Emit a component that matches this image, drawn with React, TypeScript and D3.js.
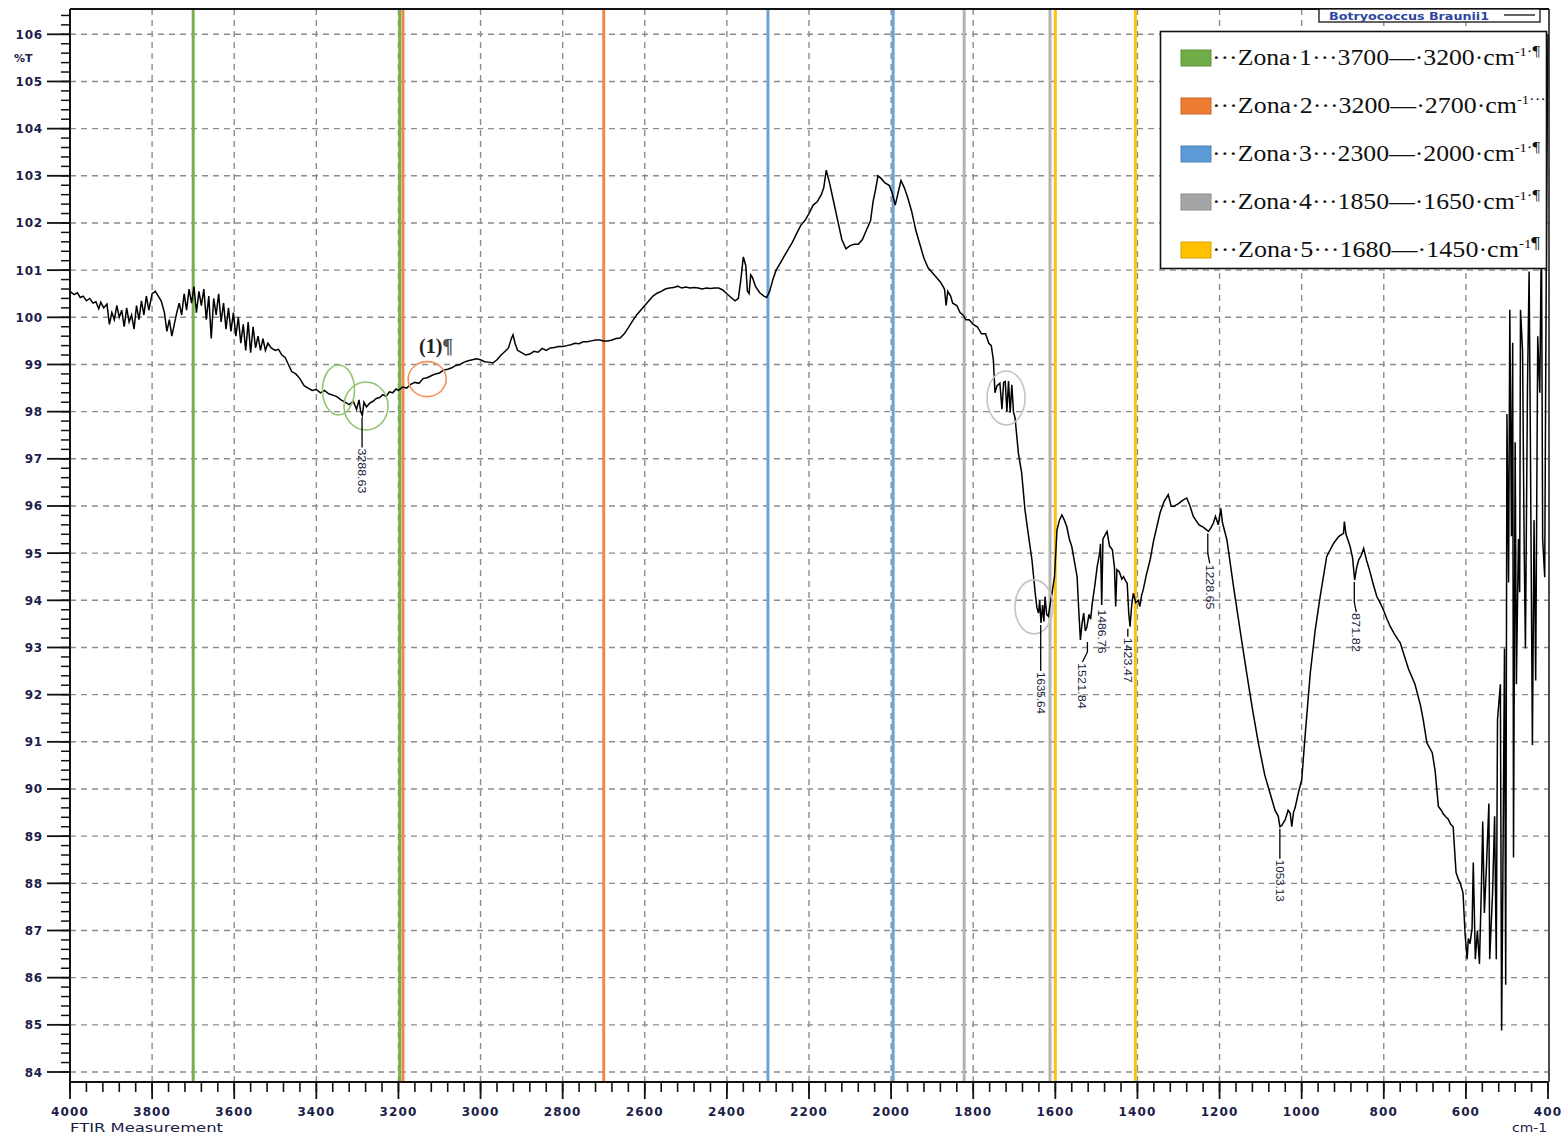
import React from "react";
import * as d3 from "d3";

// ---------- DATA ----------
const spectrumWn = [
  4000, 3990, 3982, 3975, 3968, 3960, 3952, 3944, 3937, 3930, 3925, 3918, 3910, 3904, 3898, 3892, 3886, 3880, 3874, 3868,
  3862, 3856, 3850, 3844, 3838, 3832, 3826, 3820, 3814, 3808, 3800, 3792, 3785, 3778, 3770, 3764, 3758, 3752, 3746, 3740,
  3734, 3728, 3722, 3716, 3710, 3704, 3698, 3692, 3686, 3680, 3674, 3668, 3662, 3656, 3650, 3644, 3638, 3632, 3626, 3620,
  3614, 3608, 3602, 3596, 3590, 3584, 3578, 3572, 3566, 3560, 3554, 3548, 3542, 3536, 3530, 3524, 3518, 3510, 3500, 3492,
  3484, 3476, 3468, 3460, 3450, 3440, 3430, 3420, 3410, 3400, 3390, 3380, 3370, 3360, 3350, 3340, 3330, 3320, 3310, 3302,
  3296, 3292, 3288, 3284, 3278, 3270, 3262, 3254, 3246, 3238, 3230, 3222, 3214, 3206, 3200,
  3190, 3180, 3170, 3160, 3150, 3140, 3130, 3120, 3110, 3100, 3090, 3080, 3070, 3060, 3050, 3040, 3030, 3020, 3010, 3000,
  2990, 2980, 2970, 2960, 2950, 2940, 2932, 2925, 2921, 2916, 2910, 2900, 2890, 2880, 2870, 2860, 2850, 2840, 2830, 2820,
  2810, 2800, 2790, 2780, 2770, 2760, 2750, 2740, 2730, 2720, 2710, 2700, 2690, 2680, 2670, 2660, 2650, 2640, 2630, 2620,
  2610, 2600, 2590, 2580, 2570, 2560, 2550, 2540, 2530, 2520, 2510, 2500, 2490, 2480, 2470, 2460, 2450, 2440, 2430, 2420,
  2410, 2400, 2390, 2380, 2372, 2366, 2360, 2354, 2350, 2346, 2342, 2338, 2330, 2320, 2310, 2303, 2296, 2288, 2280, 2270,
  2260, 2250, 2240, 2230, 2220, 2210, 2200, 2190, 2180, 2170, 2164, 2158, 2150, 2140, 2130, 2120, 2110, 2100, 2090, 2080,
  2070, 2060, 2050, 2044, 2038, 2032, 2025, 2015, 2005, 1998, 1990, 1984, 1976, 1968, 1960, 1950, 1940, 1930, 1920, 1910,
  1900, 1890, 1880, 1870, 1866, 1862, 1855, 1850, 1840, 1832, 1825, 1818, 1810, 1800, 1790, 1780, 1770, 1762, 1756, 1751,
  1747, 1742, 1735, 1730, 1726, 1722, 1718, 1714, 1710, 1706, 1702, 1698, 1690, 1682, 1674, 1665, 1657, 1649, 1645, 1641,
  1638, 1635, 1631, 1628, 1625, 1621, 1617, 1612, 1608, 1602, 1596, 1590, 1584, 1578, 1572, 1566, 1560, 1553, 1547, 1543,
  1539, 1535, 1531, 1527, 1523, 1518, 1514, 1510, 1504, 1498, 1492, 1490, 1487, 1484, 1478, 1474, 1468, 1461, 1456, 1453,
  1450, 1444, 1438, 1434, 1428, 1425, 1421, 1418, 1414, 1410, 1404, 1398, 1394, 1390, 1386, 1378, 1369, 1361, 1353, 1345,
  1335, 1325, 1318, 1312, 1300, 1290, 1280, 1272, 1264, 1250, 1240, 1231, 1227, 1220, 1215, 1210, 1203, 1197, 1193, 1182,
  1166, 1150, 1134, 1120, 1105, 1090, 1075, 1065, 1057, 1053, 1049, 1040, 1033, 1028, 1024, 1020, 1016, 1008, 1000, 990,
  979, 967, 955, 939, 922, 910, 898, 896, 892, 882, 876, 871, 866, 861, 855, 849, 842, 835, 826, 817,
  809, 801, 792, 784, 775, 765, 760, 740, 724, 711, 704, 695, 682, 675, 667, 660, 655, 648, 643, 637,
  631, 624, 619, 614, 607, 602, 597, 594, 590, 585, 582, 577, 572, 567, 562, 559, 555, 550, 544, 542,
  535, 530, 526, 523, 516, 513, 510, 506, 503, 500, 496, 493, 489, 486, 484, 480, 477, 472, 469, 467,
  462, 458, 455, 450, 446, 443, 438, 434, 430, 425, 420, 416, 413, 408, 404, 402, 400,
];
const spectrumT = [
  100.55, 100.48, 100.52, 100.42, 100.45, 100.35, 100.4, 100.3, 100.33, 100.18, 100.32, 100.2, 100.28, 99.85, 100.1, 99.95, 100.25, 100.0, 100.15, 99.8,
  100.2, 99.9, 100.05, 99.75, 100.25, 99.95, 100.35, 100.05, 100.45, 100.15, 100.5, 100.55, 100.45, 100.35, 100.1, 99.7, 99.95, 99.6, 99.85, 100.1,
  100.3, 100.05, 100.5, 100.15, 100.6, 100.3, 100.65, 100.1, 100.55, 100.25, 100.6, 99.95, 100.45, 99.55, 100.4, 100.05, 100.5, 99.9, 100.3, 99.75,
  100.2, 99.7, 100.1, 99.6, 100.0, 99.45, 99.85, 99.3, 99.9, 99.25, 99.8, 99.35, 99.6, 99.3, 99.55, 99.3, 99.45, 99.35, 99.3, 99.32,
  99.2, 99.15, 99.0, 98.85, 98.8, 98.7, 98.55, 98.5, 98.45, 98.47, 98.4, 98.45, 98.38, 98.35, 98.32, 98.25, 98.2, 98.15, 98.22, 98.05,
  98.25, 98.0, 97.92, 98.2, 98.1, 98.18, 98.22, 98.28, 98.3, 98.36, 98.32, 98.42, 98.4, 98.48, 98.45,
  98.52, 98.5, 98.58, 98.62, 98.6, 98.7, 98.72, 98.76, 98.8, 98.82, 98.88, 98.9, 98.93, 98.98, 99.0, 99.05, 99.08, 99.1, 99.12, 99.1,
  99.06, 99.05, 99.03, 99.1, 99.2, 99.28, 99.35, 99.55, 99.63, 99.45, 99.3, 99.25, 99.2, 99.22, 99.28, 99.26, 99.34, 99.3, 99.35, 99.36,
  99.38, 99.38, 99.4, 99.42, 99.45, 99.44, 99.48, 99.48, 99.5, 99.52, 99.52, 99.5, 99.5, 99.52, 99.55, 99.56, 99.65, 99.78, 99.92, 100.05,
  100.15, 100.25, 100.35, 100.45, 100.51, 100.55, 100.6, 100.62, 100.63, 100.66, 100.62, 100.64, 100.62, 100.63, 100.62, 100.6, 100.62, 100.61, 100.62, 100.62,
  100.58, 100.5, 100.42, 100.35, 100.4, 100.8, 101.28, 101.1, 100.55, 100.5, 100.9, 100.85, 100.65, 100.52, 100.45, 100.42, 100.55, 100.8, 101.0, 101.15,
  101.3, 101.45, 101.6, 101.78, 101.95, 102.05, 102.2, 102.38, 102.45, 102.6, 102.75, 103.12, 102.85, 102.45, 102.05, 101.65, 101.45, 101.52, 101.55, 101.55,
  101.65, 101.85, 102.05, 102.45, 102.7, 103.0, 102.95, 102.85, 102.8, 102.65, 102.38, 102.6, 102.9, 102.75, 102.55, 102.25, 101.85, 101.55, 101.25, 101.05,
  100.95, 100.85, 100.75, 100.6, 100.25, 100.55, 100.45, 100.3, 100.25, 100.1, 100.05, 99.95, 99.95, 99.85, 99.8, 99.65, 99.65, 99.45, 99.4, 99.1,
  98.4, 98.55, 98.6, 98.05, 98.62, 98.64, 98.0, 98.65, 97.98, 98.57, 98.0, 97.86, 97.12, 96.7, 95.92, 95.35, 94.86, 94.15, 93.85, 93.73,
  94.0, 93.52, 93.9, 93.55, 94.08, 93.7, 93.66, 93.95, 94.15, 94.5, 95.49, 95.7, 95.81, 95.7, 95.56, 95.3, 95.14, 94.8, 94.5, 93.8,
  93.16, 93.5, 93.73, 93.35, 93.44, 93.7, 93.6, 93.94, 94.3, 94.72, 95.0, 95.2, 93.9, 95.3, 95.4, 95.46, 95.15, 95.07, 94.7, 93.87,
  94.65, 94.6, 94.45, 94.5, 94.4, 94.36, 93.7, 93.44, 93.9, 94.15, 93.95, 94.0, 93.87, 94.1, 94.22, 94.55, 94.86, 95.25, 95.55, 95.85,
  96.1, 96.24, 96.0, 95.99, 96.05, 96.12, 96.17, 96.0, 95.78, 95.6, 95.55, 95.49, 95.46, 95.55, 95.64, 95.78, 95.6, 95.95, 95.65, 95.28,
  94.29, 93.37, 92.46, 91.7, 90.95, 90.3, 89.85, 89.55, 89.42, 89.2, 89.22, 89.35, 89.55, 89.49, 89.2, 89.5, 89.6, 89.92, 90.19, 91.3,
  92.46, 93.37, 94.08, 94.93, 95.21, 95.35, 95.42, 95.67, 95.4, 95.14, 94.9, 94.43, 94.7, 94.86, 94.95, 95.1, 94.85, 94.65, 94.35, 94.08,
  93.95, 93.8, 93.6, 93.44, 93.3, 93.16, 93.1, 92.55, 92.22, 91.79, 91.47, 90.98, 90.77, 90.39, 89.63, 89.55, 89.47, 89.4, 89.36, 89.25,
  89.2, 88.23, 88.1, 88.01, 87.8, 86.93, 86.39, 86.83, 86.72, 87.04, 88.44, 86.39, 87.0, 86.29, 88.01, 89.31, 87.37, 88.34, 89.69, 86.39,
  87.8, 89.42, 86.39, 91.47, 92.22, 84.88, 88.01, 92.98, 85.85, 97.95, 94.38, 100.16, 95.36, 99.46, 88.55, 97.35, 92.22, 95.3, 94.17, 100.16,
  99.3, 95.1, 92.98, 98.49, 100.97, 97.5, 90.93, 95.7, 92.3, 99.6, 98.4, 101.9, 95.3, 94.49, 101.4, 104.0, 106.0,
];

const yTicks = [84, 85, 86, 87, 88, 89, 90, 91, 92, 93, 94, 95, 96, 97, 98, 99, 100, 101, 102, 103, 104, 105, 106];
const xTicks = [4000, 3800, 3600, 3400, 3200, 3000, 2800, 2600, 2400, 2200, 2000, 1800, 1600, 1400, 1200, 1000, 800, 600, 400];

const zoneLineWn = [3700, 3197, 3189, 2700, 2300, 1995, 1822, 1613, 1600, 1405];
const zoneLineColor = ["#76b04f", "#76b04f", "#ee8a45", "#ee8a45", "#6aa3d8", "#6aa3d8", "#b3b3b3", "#b3b3b3", "#ffc20e", "#ffc20e"];

const legendZones = ["1", "2", "3", "4", "5"];
const legendFrom = ["3700", "3200", "2300", "1850", "1680"];
const legendTo = ["3200", "2700", "2000", "1650", "1450"];
const legendColors = ["#70ad47", "#ed7d31", "#5b9bd5", "#a5a5a5", "#ffc000"];
const legendTail = ["\u00B7\u00B6", "\u00B7\u00B7\u00B7", "\u00B7\u00B6", "\u00B7\u00B6", "\u00B6"];

const peakWn = [3288.63, 1635.64, 1521.84, 1486.76, 1423.47, 1228.65, 1053.13, 871.82];
const peakText = ["3288.63", "1635.64", "1521.84", "1486.76", "1423.47", "1228.65", "1053.13", "871.82"];
const peakTipT = [97.92, 93.52, 93.16, 93.87, 93.44, 95.46, 89.2, 94.43];

const circleWn = [3346, 3279, 3130, 1720, 1652];
const circleT = [98.46, 98.12, 98.69, 98.29, 93.86];
const circleColor = ["#93c572", "#93c572", "#f0935e", "#c4c4c4", "#c4c4c4"];

// ---------- LAYOUT ----------
const W = 1564;
const H = 1137;
const left = 70;
const right = 1548;
const top = 9;
const bottom = 1082;

const x = d3.scaleLinear().domain([4000, 400]).range([left, right]);
const y = d3.scaleLinear().domain([84, 106]).range([1072, 34.3]);

const peakLayout = [
  { lead: 30, textLen: 45, dx: 0 },
  { lead: 46, textLen: 42, dx: 0 },
  { lead: 20, textLen: 46, dx: -5 },
  { lead: 0, textLen: 44, dx: 0 },
  { lead: 8, textLen: 45, dx: 0 },
  { lead: 30, textLen: 45, dx: 2 },
  { lead: 30, textLen: 42, dx: 0 },
  { lead: 30, textLen: 39, dx: 2 },
];

const circleR = [
  [16, 25],
  [22, 24],
  [19, 17.5],
  [19, 27],
  [19, 27],
];

export default function App() {
  const pts: [number, number][] = spectrumWn.map((w, i) => [w, spectrumT[i]]);
  const line = d3
    .line<[number, number]>()
    .x((d) => x(d[0]))
    .y((d) => y(d[1]));
  const path = line(pts) || "";

  const yMinor = d3.range(84, 106.45, 0.2);
  const xMinor = d3.range(4000, 399, -40);

  const tickColor = "#1c2048";
  const tickFont = "'DejaVu Sans', Verdana, sans-serif";

  return (
    <svg
      width={W}
      height={H}
      style={{ position: "absolute", left: 0, top: 0, background: "#fff" }}
      xmlns="http://www.w3.org/2000/svg"
    >
      <rect x={0} y={0} width={W} height={H} fill="#fff" />
      {/* grid */}
      <g stroke="#8c8c8c" strokeWidth={1.4} strokeDasharray="6,5">
        {xTicks
          .filter((t) => t !== 4000 && t !== 400)
          .map((t) => (
            <line key={"gx" + t} x1={x(t)} x2={x(t)} y1={top} y2={bottom} />
          ))}
        {yTicks.map((t) => (
          <line key={"gy" + t} x1={left} x2={right} y1={y(t)} y2={y(t)} />
        ))}
      </g>

      {/* zone lines */}
      {zoneLineWn.map((w, i) => (
        <line
          key={"z" + i}
          x1={x(w)}
          x2={x(w)}
          y1={top}
          y2={bottom}
          stroke={zoneLineColor[i]}
          strokeWidth={3}
        />
      ))}

      {/* spectrum */}
      <path d={path} fill="none" stroke="#000" strokeWidth={1.5} strokeLinejoin="miter" />

      {/* circles */}
      {circleWn.map((w, i) => (
        <ellipse
          key={"c" + i}
          cx={x(w)}
          cy={y(circleT[i])}
          rx={circleR[i][0]}
          ry={circleR[i][1]}
          fill="none"
          stroke={circleColor[i]}
          strokeWidth={1.6}
        />
      ))}

      {/* (1) annotation */}
      <text x={x(3150)} y={y(98.99) - 12} fontFamily="'Liberation Serif', 'Times New Roman', serif" fontSize={20} fontWeight="bold" fill="#222">
        (1)<tspan fill="#555">{"\u00B6"}</tspan>
      </text>

      {/* peak labels */}
      {peakWn.map((w, i) => {
        const px = x(w);
        const py = y(peakTipT[i]) + 2;
        const L = peakLayout[i];
        const ly = py + L.lead;
        const tx = px + L.dx;
        return (
          <g key={"p" + i}>
            {L.lead > 0 && (
              <polyline
                points={`${px},${py} ${px},${ly - (L.dx !== 0 ? 10 : 0)} ${tx},${ly}`}
                fill="none"
                stroke="#000"
                strokeWidth={1.3}
              />
            )}
            <text
              transform={`translate(${tx},${ly + 1}) rotate(90)`}
              fontFamily="'Liberation Sans', Arial, sans-serif"
              fontSize={11}
              dominantBaseline="central"
              textLength={L.textLen}
              lengthAdjust="spacingAndGlyphs"
              fill="#1a1c3c"
            >
              {peakText[i]}
            </text>
          </g>
        );
      })}

      {/* left axis */}
      <line x1={left} x2={left} y1={top} y2={bottom} stroke="#111" strokeWidth={2} />
      {yMinor.map((v, i) => (
        <line key={"ym" + i} x1={left - 9} x2={left} y1={y(v)} y2={y(v)} stroke="#111" strokeWidth={1.5} />
      ))}
      {yTicks.map((t) => (
        <g key={"yt" + t}>
          <line x1={47} x2={left} y1={y(t)} y2={y(t)} stroke="#111" strokeWidth={1.8} />
          <text x={43} y={y(t) + 4.5} textAnchor="end" fontFamily={tickFont} fontSize={12} fontWeight="bold" letterSpacing={0.8} fill={tickColor}>
            {t}
          </text>
        </g>
      ))}
      <text x={14} y={62} fontFamily={tickFont} fontSize={11} fontWeight="bold" fill={tickColor}>
        %T
      </text>

      {/* bottom axis */}
      <line x1={left} x2={right} y1={bottom} y2={bottom} stroke="#111" strokeWidth={2} />
      {xMinor.map((v, i) => (
        <line key={"xm" + i} x1={x(v)} x2={x(v)} y1={bottom} y2={bottom + 10} stroke="#111" strokeWidth={1.6} />
      ))}
      {xTicks.map((t) => (
        <g key={"xt" + t}>
          <line x1={x(t)} x2={x(t)} y1={bottom} y2={bottom + 17} stroke="#111" strokeWidth={1.8} />
          <text x={x(t)} y={1116} textAnchor="middle" fontFamily={tickFont} fontSize={12} fontWeight="bold" letterSpacing={1.1} fill={tickColor}>
            {t}
          </text>
        </g>
      ))}
      <text x={70} y={1132} fontFamily={tickFont} fontSize={12} textLength={153} lengthAdjust="spacingAndGlyphs" fill={tickColor}>
        FTIR Measurement
      </text>
      <text x={1512} y={1132} fontFamily={tickFont} fontSize={12} textLength={35} lengthAdjust="spacingAndGlyphs" fill={tickColor}>
        cm-1
      </text>

      {/* top and right frame */}
      <line x1={left} x2={right + 1} y1={top} y2={top} stroke="#111" strokeWidth={2} />
      <line x1={right + 1} x2={right + 1} y1={top} y2={bottom} stroke="#111" strokeWidth={1.5} />

      {/* series legend */}
      <rect x={1319} y={9} width={221} height={13} fill="#fff" stroke="#111" strokeWidth={1.3} />
      <text x={1329} y={20} fontFamily={tickFont} fontSize={10} fontWeight="bold" textLength={160} lengthAdjust="spacingAndGlyphs" fill="#2d47a0">
        Botryococcus Braunii1
      </text>
      <line x1={1504} x2={1535} y1={15} y2={15} stroke="#111" strokeWidth={1.3} />

      {/* zone legend */}
      <rect x={1160.5} y={31.5} width={386} height={237} fill="#fff" stroke="#111" strokeWidth={1.6} />
      {legendZones.map((z, i) => {
        const cy = 58 + i * 48;
        return (
          <g key={"lg" + i}>
            <rect x={1181} y={cy - 8} width={30} height={16} fill={legendColors[i]} stroke={d3.color(legendColors[i])!.darker(0.5).toString()} strokeWidth={1} />
            <text
              x={1212}
              y={cy + 7}
              fontFamily="'Liberation Serif', 'Times New Roman', serif"
              fontSize={23}
              fill="#111"
              textLength={i === 1 ? 334 : 328}
              lengthAdjust="spacingAndGlyphs"
            >
              {`\u00B7\u00B7\u00B7Zona\u00B7${z}\u00B7\u00B7\u00B7${legendFrom[i]}\u2014\u00B7${legendTo[i]}\u00B7cm`}
              <tspan fontSize={13} dy={-9}>
                {"-1"}
              </tspan>
              <tspan fontSize={i === 4 ? 17 : 15} dy={0}>
                {legendTail[i]}
              </tspan>
            </text>
          </g>
        );
      })}
    </svg>
  );
}
